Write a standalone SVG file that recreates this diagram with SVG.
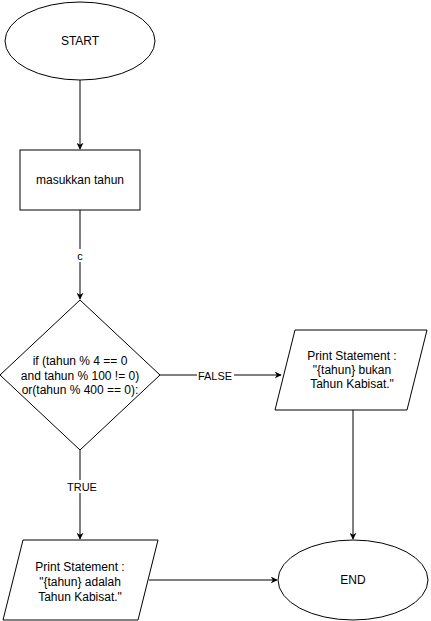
<svg xmlns="http://www.w3.org/2000/svg" width="431" height="621" viewBox="0 0 431 621">
<defs>
<style>
.s{fill:#fff;stroke:#000;stroke-width:1}
.t{font-family:"Liberation Sans",Arial,sans-serif;font-size:12px;fill:#000;text-anchor:middle;dominant-baseline:central}
.l{font-family:"Liberation Sans",Arial,sans-serif;font-size:11px;fill:#000;text-anchor:middle;dominant-baseline:central}
.c{fill:none;stroke:#000;stroke-width:1}
</style>
<marker id="a" viewBox="0 0 10 10" refX="9" refY="5" markerWidth="7" markerHeight="7" orient="auto" markerUnits="userSpaceOnUse">
<path d="M0,0 L10,5 L0,10 L3,5 Z" fill="#000"/>
</marker>
</defs>
<rect width="431" height="621" fill="#fff"/>
<g id="connectors">
<path class="c" d="M80,80 L80,149" marker-end="url(#a)"/>
<path class="c" d="M80,210 L80,299" marker-end="url(#a)"/>
<path class="c" d="M160,375 L281,375" marker-end="url(#a)"/>
<path class="c" d="M80,450 L80,539" marker-end="url(#a)"/>
<path class="c" d="M353,410 L353,539" marker-end="url(#a)"/>
<path class="c" d="M149,580 L277,580" marker-end="url(#a)"/>
<rect x="75" y="249" width="10" height="13" fill="#fff"/>
<text class="l" x="80" y="256">c</text>
<rect x="197" y="369" width="37" height="13" fill="#fff"/>
<text class="l" x="215" y="376">FALSE</text>
<rect x="66" y="480" width="32" height="13" fill="#fff"/>
<text class="l" x="82" y="487">TRUE</text>
</g>
<g id="start">
<ellipse class="s" cx="80" cy="41" rx="75" ry="39"/>
<text class="t" x="80" y="41">START</text>
</g>
<g id="input">
<rect class="s" x="20" y="150" width="120" height="60"/>
<text class="t" x="80" y="180">masukkan tahun</text>
</g>
<g id="decision">
<path class="s" d="M80,300 L160,375 L80,450 L0,375 Z"/>
<text class="t" x="80" y="361">if (tahun % 4 == 0</text>
<text class="t" x="80" y="376">and tahun % 100 != 0)</text>
<text class="t" x="80" y="390">or(tahun % 400 == 0):</text>
</g>
<g id="printFalse">
<path class="s" d="M295,330 L427,330 L407,410 L275,410 Z"/>
<text class="t" x="352" y="356">Print Statement :</text>
<text class="t" x="352" y="370">"{tahun} bukan</text>
<text class="t" x="352" y="384">Tahun Kabisat."</text>
</g>
<g id="printTrue">
<path class="s" d="M23,540 L158,540 L138,620 L3,620 Z"/>
<text class="t" x="80" y="567">Print Statement :</text>
<text class="t" x="80" y="582">"{tahun} adalah</text>
<text class="t" x="80" y="597">Tahun Kabisat."</text>
</g>
<g id="end">
<ellipse class="s" cx="353" cy="580" rx="75" ry="40"/>
<text class="t" x="353" y="580">END</text>
</g>
</svg>
